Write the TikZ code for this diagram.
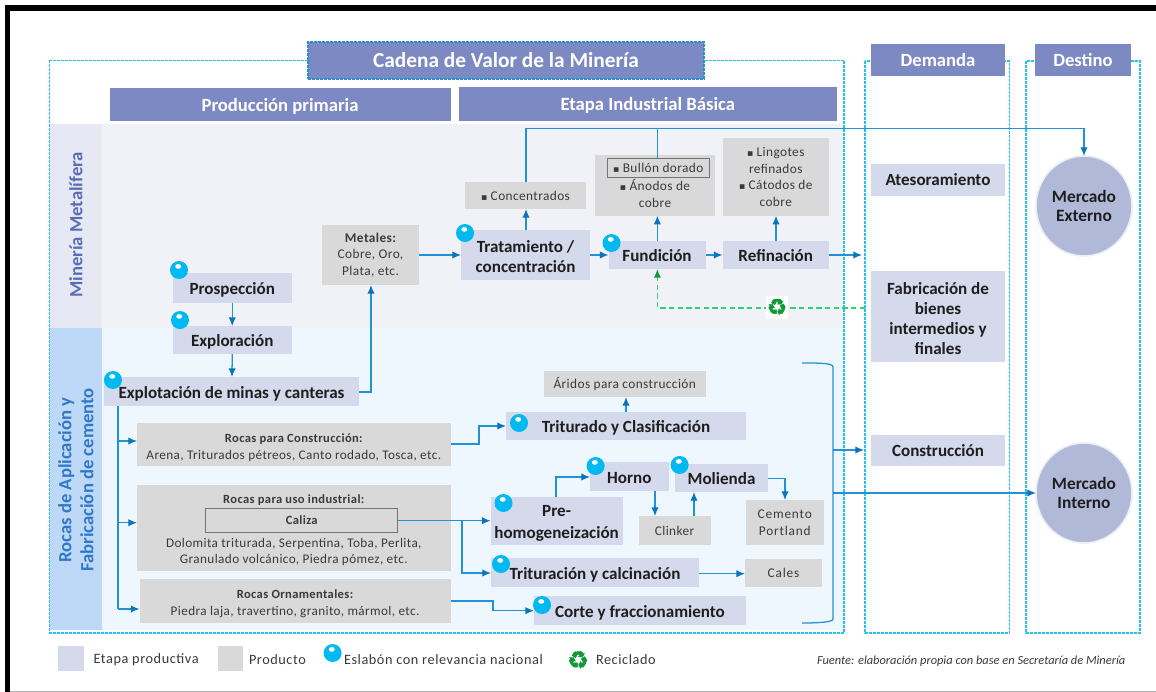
\documentclass[tikz,border=0pt]{standalone}
\usepackage{fontspec}
\setmainfont{Carlito}
\newfontfamily\symfont{DejaVu Sans}
\newfontfamily\recyfont[FakeBold=2]{DejaVu Sans}
\usetikzlibrary{arrows.meta,calc,shapes.geometric}
\definecolor{hdr}{HTML}{7C89C2}
\definecolor{stage}{HTML}{D4D9EB}
\definecolor{prod}{HTML}{D9D9D9}
\definecolor{upbg}{HTML}{F0F2F8}
\definecolor{lowbg}{HTML}{EEF6FE}
\definecolor{upstrip}{HTML}{E6E8F4}
\definecolor{lowstrip}{HTML}{BDD9F7}
\definecolor{frameline}{HTML}{22C4EE}
\definecolor{flow}{HTML}{2391D6}
\definecolor{tipc}{HTML}{0B74BC}
\definecolor{recy}{HTML}{2AD470}
\definecolor{recyi}{HTML}{0F9A38}
\definecolor{ballc}{HTML}{00B9F1}
\definecolor{circ}{HTML}{B0BAD8}
\definecolor{txt}{HTML}{1E1E1E}
\definecolor{ptxt}{HTML}{3A3A3A}
\definecolor{sideA}{HTML}{5A6CB6}
\definecolor{sideB}{HTML}{2F79C8}
\newcommand\blt{{\symfont\fontsize{7}{7}\selectfont ▪}\hspace{2.5pt}}
\newcommand\lowr[1]{\rule{0pt}{#1pt}}
\tikzset{
 x=0.75pt,y=-0.75pt,
 basebox/.style={inner sep=0pt,outer sep=0pt,align=center},
 hdrbox/.style={basebox,fill=hdr,text=white,text height=10.4pt,text depth=0.3pt,font=\fontsize{14}{16}\selectfont\bfseries},
 stagebox/.style={basebox,fill=stage,text=txt,font=\fontsize{12.8}{14.8}\selectfont\bfseries},
 stageone/.style={stagebox,text height=10.5pt,text depth=0.5pt},
 stagemid/.style={stagebox,text height=9.3pt,text depth=0.7pt},
 prodbox/.style={basebox,fill=prod,text=ptxt,font=\fontsize{10}{12.4}\selectfont\addfontfeatures{LetterSpace=3}},
 rockbox/.style={basebox,fill=prod,text=ptxt,font=\fontsize{9.9}{12.6}\selectfont\addfontfeatures{LetterSpace=3}},
 innerbox/.style={basebox,draw=black!55,line width=0.7pt,fill=prod,text=ptxt},
 dashframe/.style={draw=frameline,line width=0.8pt,dash pattern=on 2.2pt off 0.8pt},
 conn/.style={draw=flow,line width=0.95pt,-{Latex[length=6.5pt,width=5.5pt,color=tipc]}},
 plainconn/.style={draw=flow,line width=0.95pt},
 recyconn/.style={draw=recy,line width=1.3pt,dash pattern=on 4pt off 2.5pt,-{Latex[length=6.5pt,width=5.5pt,color=recyi]}},
 ballnode/.style={circle,inner sep=0pt,outer sep=0pt,minimum size=13.5pt,fill=ballc},
 hilite/.style={ellipse,inner sep=0pt,outer sep=0pt,minimum width=4.5pt,minimum height=3.6pt,fill=white},
 mkt/.style={ellipse,inner sep=0pt,outer sep=0pt,minimum width=72pt,minimum height=75pt,fill=circ,draw=circ!25,line width=1.2pt,text=txt,align=center,font=\fontsize{13}{14.4}\selectfont\bfseries},
 legendtxt/.style={inner sep=0pt,outer sep=0pt,anchor=west,text=ptxt,font=\fontsize{10.7}{12}\selectfont\addfontfeatures{LetterSpace=4}},
 sidetxt/.style={inner sep=0pt,outer sep=0pt,rotate=90,align=center,font=\fontsize{14}{16.5}\selectfont\bfseries},
 recytxt/.style={inner sep=0pt,outer sep=0pt,text=recyi,font=\fontsize{17}{17}\selectfont\recyfont},
}
\newcommand\bx[7]{%
 \pgfmathsetmacro\cxv{(#3+#5)/2}\pgfmathsetmacro\cyv{(#4+#6)/2}%
 \pgfmathsetmacro\wv{(#5-#3)*0.75}\pgfmathsetmacro\hv{(#6-#4)*0.75}%
 \node[#2,minimum width=\wv pt,minimum height=\hv pt] (#1) at (\cxv,\cyv) {#7};}
\newcommand\ballat[3]{%
 \node[ballnode] (#1) at (#2,#3) {};
 \node[hilite] (#1h) at (#2-0.8,#3-3.6) {};}
\begin{document}
\begin{tikzpicture}
\useasboundingbox (0,0) rectangle (1156,692);
% page frame
\fill[white] (0,0) rectangle (1156,692);
\fill[black] (5,5) rectangle (1156,11);
\fill[black] (5,5) rectangle (10,692);
\fill[black!30] (10,690.5) rectangle (1156,692);
% backgrounds
\bx{bgup}{basebox,fill=upbg}{101.7}{123.7}{844}{328}{}
\bx{bglow}{basebox,fill=lowbg}{101.7}{328}{844}{630}{}
\bx{stripup}{basebox,fill=upstrip}{50}{123.7}{101.7}{328}{}
\bx{striplow}{basebox,fill=lowstrip}{50}{328}{101.7}{630}{}
\node[sidetxt,text=sideA] (sideup) at (76,225) {Minería Metalífera};
\node[sidetxt,text=sideB] (sidelow) at (76,480) {Rocas de Aplicación y\\Fabricación de cemento};
% dashed frames
\draw[dashframe] (49.6,60.3) rectangle (844,633);
\draw[dashframe] (865,61) rectangle (1009.6,633);
\draw[dashframe] (1026,61) rectangle (1140,633);
% headers
\bx{cadena}{hdrbox,text height=10.6pt,text depth=0pt,draw=flow,dash pattern=on 2.2pt off 0.8pt,line width=0.8pt,font=\fontsize{16}{18}\selectfont\bfseries}{308}{42}{704}{79}{Cadena de Valor de la Minería}
\bx{prim}{hdrbox}{109.5}{88}{450.6}{121}{Producción primaria}
\bx{etapa}{hdrbox}{458.7}{87}{836.8}{121}{Etapa Industrial Básica}
\bx{demanda}{hdrbox}{871}{44}{1005}{76}{Demanda}
\bx{destino}{hdrbox}{1035}{44}{1131}{76}{Destino}
% stages
\bx{prosp}{stageone}{173}{273}{291.5}{303}{Prospección}
\bx{explo}{stageone}{173}{326}{291.5}{354}{Exploración}
\bx{explot}{stageone}{104}{377}{359}{406}{Explotación de minas y canteras}
\bx{trat}{stagebox}{461}{230}{590}{280}{\lowr{11}Tratamiento /\\concentración}
\bx{fund}{stageone}{608.5}{241}{705.5}{269}{Fundición}
\bx{refi}{stageone}{722.5}{241}{829}{269}{Refinación}
\bx{tritu}{stageone}{506}{412}{746}{440}{Triturado y Clasificación}
\bx{pre}{stagebox}{490.6}{497}{622.6}{545}{\lowr{12}Pre-\\[1.7pt]homogeneización}
\bx{horno}{stageone}{590}{462}{668.5}{491}{Horno}
\bx{moli}{stageone}{675}{464}{768}{492}{Molienda}
\bx{calc}{stageone}{491}{558}{699}{587}{Trituración y calcinación}
\bx{corte}{stageone}{534}{596}{746}{625}{Corte y fraccionamiento}
\bx{ateso}{stagemid}{871}{164}{1005}{196}{Atesoramiento}
\bx{fabri}{stagebox}{871}{271}{1005}{362}{\lowr{12}Fabricación de\\bienes\\intermedios y\\finales}
\bx{constr}{stagemid}{871}{435}{1005}{466}{Construcción}
% products
\bx{metales}{prodbox}{322}{225}{419}{285}{{\bfseries Metales:}\\Cobre, Oro,\\Plata, etc.}
\bx{conc}{prodbox}{465}{182}{586}{209}{\blt Concentrados}
\bx{bullon}{prodbox}{595}{155}{715}{215.7}{\rule{0pt}{11pt}\\[-3pt]\blt Ánodos de\\cobre}
\bx{bullin}{innerbox,text height=8pt,text depth=0pt,font=\fontsize{10}{11}\selectfont\addfontfeatures{LetterSpace=3}}{607.5}{158}{709}{177}{\blt Bullón dorado}
\bx{lingo}{prodbox}{722.5}{138}{829}{215.7}{\blt Lingotes\\refinados\\\blt Cátodos de\\cobre}
\bx{rconst}{rockbox}{137}{423}{450.6}{466}{\lowr{11}{\fontsize{9.4}{12.6}\selectfont\bfseries Rocas para Construcción:}\\Arena, Triturados pétreos, Canto rodado, Tosca, etc.}
\bx{rind}{rockbox,font=\fontsize{9.9}{12.4}\selectfont\addfontfeatures{LetterSpace=3}}{137}{485}{450.6}{571}{\lowr{10}{\fontsize{9.4}{12.4}\selectfont\bfseries Rocas para uso industrial:}\\[20.5pt]Dolomita triturada, Serpentina, Toba, Perlita,\\Granulado volcánico, Piedra pómez, etc.}
\bx{caliza}{innerbox,font=\fontsize{9.4}{11}\selectfont\bfseries\addfontfeatures{LetterSpace=3}}{205.7}{508.7}{397.7}{532}{Caliza}
\bx{rorn}{rockbox}{139.5}{579}{450.6}{623}{\lowr{11}{\fontsize{9.4}{12.6}\selectfont\bfseries Rocas Ornamentales:}\\Piedra laja, travertino, granito, mármol, etc.}
\bx{aridos}{prodbox}{544}{371}{705.5}{397}{Áridos para construcción}
\bx{clink}{prodbox}{638.5}{516}{710.7}{545}{Clinker}
\bx{cemen}{prodbox,font=\fontsize{10}{12.4}\selectfont\addfontfeatures{LetterSpace=6}}{746}{500}{823.5}{545}{Cemento\\Portland}
\bx{cales}{prodbox,font=\fontsize{10}{12.4}\selectfont\addfontfeatures{LetterSpace=6}}{745}{559}{822}{587}{Cales}
% markets
\node[mkt] (mext) at (1084,206) {Mercado\\Externo};
\node[mkt] (mint) at (1084,493) {Mercado\\Interno};
% connectors
\coordinate (topl) at (526,128.3);
\draw[conn] (526,0 |- conc.north) -- (topl) -- (1084,128.3) -- (mext.north);
\draw[plainconn] (657.4,0 |- bullin.north) -- (657.4,128.3);
\draw[conn] (metales.east |- 0,255) -- (trat.west |- 0,255);
\draw[conn] (526,0 |- trat.north) -- (526,0 |- conc.south);
\draw[conn] (trat.east |- 0,255) -- (fund.west |- 0,255);
\draw[conn] (fund.east |- 0,255) -- (refi.west |- 0,255);
\draw[conn] (refi.east |- 0,255) -- (862,255);
\draw[conn] (657.4,0 |- fund.north) -- (657.4,0 |- bullon.south);
\draw[conn] (776,0 |- refi.north) -- (776,0 |- lingo.south);
\draw[recyconn] (865,307.7) -- (657.4,307.7) -- (657.4,0 |- fund.south);
\node[basebox,fill=white,minimum width=16pt,minimum height=17pt] (recybg) at (777,307.5) {};
\node[recytxt] (recy1) at (777,307) {♻};
\draw[conn] (prosp.south) -- (explo.north);
\draw[conn] (explo.south) -- (232,0 |- explot.north);
\draw[conn] (explot.east |- 0,392) -- (371,392) -- (371,0 |- metales.south);
\coordinate (trunk) at (118,609);
\draw[plainconn] (118,0 |- explot.south) -- (trunk);
\draw[conn] (118,441) -- (rconst.west |- 0,441);
\draw[conn] (118,522.7) -- (rind.west |- 0,522.7);
\draw[conn] (trunk) -- (rorn.west |- trunk);
\draw[conn] (rconst.east |- 0,444) -- (479,444) -- (479,426) -- (tritu.west |- 0,426);
\draw[conn] (caliza.east |- 0,520.7) -- (pre.west |- 0,520.7);
\draw[conn] (462,520.7) -- (462,573) -- (calc.west |- 0,573);
\draw[conn] (556,0 |- pre.north) -- (556,477) -- (horno.west |- 0,477);
\draw[conn] (655,0 |- horno.south) -- (655,0 |- clink.north);
\draw[conn] (694,0 |- clink.north) -- (694,0 |- moli.south);
\draw[conn] (moli.east |- 0,478.7) -- (785,478.7) -- (785,0 |- cemen.north);
\draw[conn] (calc.east |- 0,573.7) -- (cales.west |- 0,573.7);
\draw[conn] (rorn.east |- 0,601) -- (493,601) -- (493,610.7) -- (corte.west |- 0,610.7);
\draw[conn] (626,0 |- tritu.north) -- (626,0 |- aridos.south);
% bracket
\coordinate (brtop) at (802,363);
\coordinate (brbot) at (802,623);
\draw[plainconn] (brtop) .. controls (820,363) and (833,363) .. (833,367) -- (833,619) .. controls (833,622) and (820,623) .. (brbot);
\draw[conn] (833,450) -- (864,450);
\draw[conn] (833,493) -- (mint.west);
% balls
\ballat{b1}{179}{270}
\ballat{b2}{180}{320}
\ballat{b3}{113}{380}
\ballat{b4}{465}{233}
\ballat{b5}{611.5}{243}
\ballat{b6}{519}{423}
\ballat{b7}{503.5}{503}
\ballat{b8}{501}{564}
\ballat{b9}{542}{605}
\ballat{b10}{595.6}{466}
\ballat{b11}{679.6}{465}
% legend
\bx{lg1}{basebox,fill=stage}{58}{646}{84}{670.7}{}
\node[legendtxt] (lt1) at (93.6,660) {Etapa productiva};
\bx{lg2}{basebox,fill=prod}{218}{646}{243.4}{670.7}{}
\node[legendtxt] (lt2) at (249,660) {Producto};
\ballat{b12}{332.6}{653}
\node[legendtxt] (lt3) at (344,660) {Eslabón con relevancia nacional};
\node[recytxt,font=\fontsize{18}{18}\selectfont\recyfont] (recy2) at (578,660) {♻};
\node[legendtxt] (lt4) at (596,660) {Reciclado};
\node[inner sep=0pt,outer sep=0pt,anchor=west,text=ptxt,font=\fontsize{9.3}{10}\selectfont\itshape] (src) at (817,661) {Fuente: elaboración propia con base en Secretaría de Minería};
\end{tikzpicture}
\end{document}
